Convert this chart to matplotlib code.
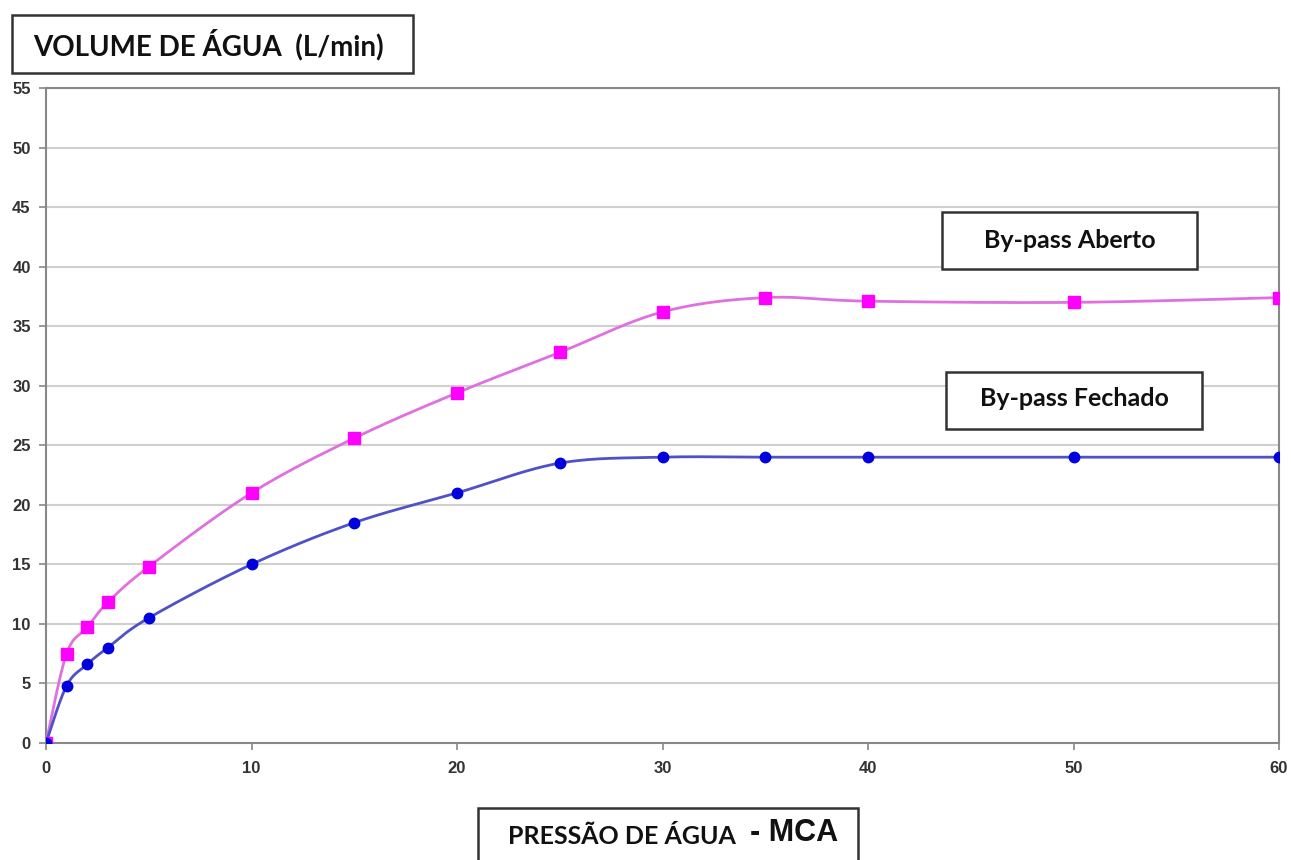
import numpy as np
import matplotlib.pyplot as plt
from matplotlib.patches import Rectangle

# data
pressao = [0, 1, 2, 3, 5, 10, 15, 20, 25, 30, 35, 40, 50, 60]
aberto = [0, 7.5, 9.7, 11.8, 14.8, 21.0, 25.6, 29.4, 32.8, 36.2, 37.4, 37.1, 37.0, 37.4]
fechado = [0, 4.8, 6.6, 8.0, 10.5, 15.0, 18.5, 21.0, 23.5, 24.0, 24.0, 24.0, 24.0, 24.0]

W, H = 1291, 860
sx, sy = 20.55, 11.9  # px per data unit, for smoothing in screen space


def smooth(x, y, n=30):
    # Excel-like smoothed line (Bezier through the points)
    p = np.column_stack([np.asarray(x, float) * sx, np.asarray(y, float) * sy])
    out = []
    for i in range(len(p) - 1):
        p0 = p[i - 1] if i > 0 else p[i]
        p1, p2 = p[i], p[i + 1]
        p3 = p[i + 2] if i + 2 < len(p) else p[i + 1]
        c1 = p1 + (p2 - p0) / 6
        c2 = p2 - (p3 - p1) / 6
        t = np.linspace(0, 1, n)[:, None]
        seg = ((1 - t) ** 3) * p1 + 3 * ((1 - t) ** 2) * t * c1 + 3 * (1 - t) * t ** 2 * c2 + t ** 3 * p2
        out.append(seg)
    out = np.vstack(out)
    return out[:, 0] / sx, out[:, 1] / sy


fig = plt.figure(figsize=(W / 100, H / 100), dpi=100)
ax = fig.add_axes([46 / W, 1 - 743 / H, (1279 - 46) / W, (743 - 88) / H])

xa, ya = smooth(pressao, aberto)
xf, yf = smooth(pressao, fechado)
ax.plot(xa, ya, color='#e070e0', lw=2, zorder=3)
ax.plot(pressao, aberto, ls='none', marker='s', ms=8, color='#ff00ff', zorder=4)
ax.plot(xf, yf, color='#5050c8', lw=2, zorder=3)
ax.plot(pressao, fechado, ls='none', marker='o', ms=7.5, color='#0000dd', zorder=4)

ax.set_xlim(0, 60)
ax.set_ylim(0, 55)
ax.set_xticks(range(0, 61, 10))
ax.set_yticks(range(0, 56, 5))
ax.grid(axis='y', color='#d0d0d0', lw=1.5)
ax.set_axisbelow(True)
for s in ax.spines.values():
    s.set_color('#888888')
    s.set_linewidth(1.5)
ax.tick_params(colors='#888888', length=5, width=1.2)
for lab in ax.get_xticklabels() + ax.get_yticklabels():
    lab.set_color('#333333')
    lab.set_fontsize(12)
    lab.set_fontweight('bold')
    lab.set_family('Liberation Sans')
ax.tick_params(axis='x', pad=8)
ax.tick_params(axis='y', pad=6)


def box(x0, y0, x1, y1):
    fig.patches.append(Rectangle((x0 / W, 1 - y1 / H), (x1 - x0) / W, (y1 - y0) / H,
                                 transform=fig.transFigure, fill=True, facecolor='white',
                                 edgecolor='#333333', lw=1.8, zorder=10))


def txt(x, y, s, size, **kw):
    fig.text(x / W, 1 - y / H, s, fontsize=size, fontweight='bold', family='Lato',
             ha='center', va='center', color='#111111', zorder=11, **kw)


box(12, 15, 413, 73)
txt(208, 45, 'VOLUME DE ÁGUA  (L/min)', 20)

box(942, 212, 1197, 269)
txt(1070, 241, 'By-pass Aberto', 18)

box(946, 372, 1202, 429)
txt(1074, 398, 'By-pass Fechado', 18)

box(478, 808, 858, 875)
txt(622, 836, 'PRESSÃO DE ÁGUA', 18)
fig.text(794 / W, 1 - 833 / H, '- MCA', fontsize=22, fontweight='bold', family='Liberation Sans',
         ha='center', va='center', color='#111111', zorder=11)

fig.savefig('out.png', dpi=100)
